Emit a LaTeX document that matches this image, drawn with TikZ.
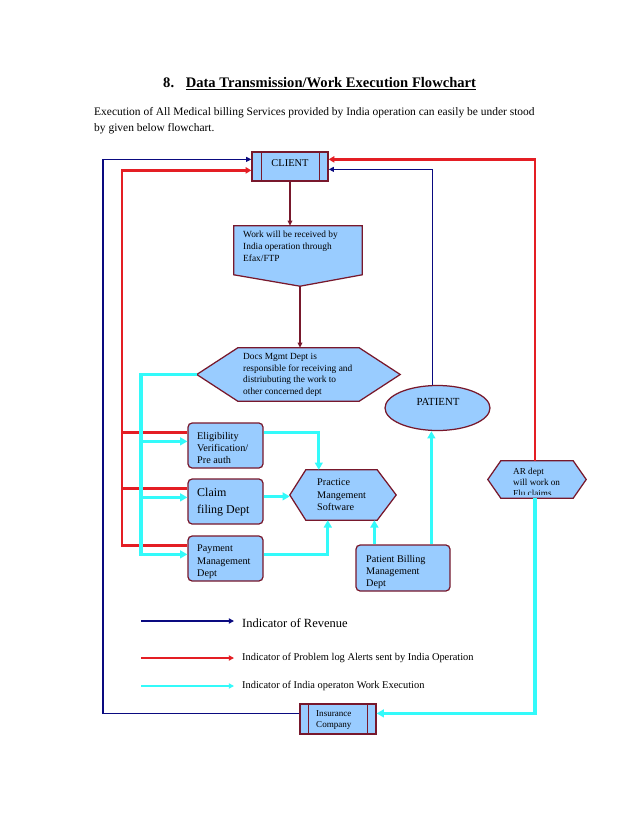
\documentclass[tikz,border=0pt]{standalone}
\usepackage{fontspec}
\setmainfont{Liberation Serif}
\usetikzlibrary{arrows.meta,calc,fit,shapes.geometric}
\definecolor{navyc}{RGB}{10,10,128}
\definecolor{redc}{RGB}{228,30,36}
\definecolor{cyanc}{RGB}{51,250,250}
\definecolor{boxfill}{RGB}{153,204,255}
\definecolor{boxline}{RGB}{120,24,44}
\tikzset{
  box/.style={draw=boxline, fill=boxfill, line width=1.2pt, rounded corners=4pt, inner sep=0pt},
  sqbox/.style={draw=boxline, fill=boxfill, line width=1.2pt, inner sep=0pt},
  ghost/.style={inner sep=0pt},
  shp/.style={draw=boxline, fill=boxfill, line width=1.2pt},
  txt/.style={anchor=north west, align=left, inner sep=0pt, font=\fontsize{9}{11.2}\selectfont},
  dtxt/.style={txt, font=\fontsize{9.8}{11.8}\selectfont},
  bluarr/.style={draw=navyc, line width=1.3pt, -{Triangle[length=5pt,width=4.5pt]}},
  blulin/.style={draw=navyc, line width=1.3pt},
  redarr/.style={draw=redc, line width=2.6pt, -{Triangle[length=5.5pt,width=6pt]}},
  redlin/.style={draw=redc, line width=2.6pt},
  cyaarr/.style={draw=cyanc, line width=3pt, -{Triangle[length=7pt,width=7.5pt]}},
  cyalin/.style={draw=cyanc, line width=3pt},
  marr/.style={draw=boxline, line width=1.3pt, -{Triangle[length=5pt,width=4.5pt]}},
}
\begin{document}
\begin{tikzpicture}[x=0.96pt,y=-0.96pt]
\useasboundingbox[fill=white] (0,0) rectangle (638,826);

% title and paragraph
\node[anchor=base west, inner sep=0pt, font=\fontsize{14}{16}\selectfont\bfseries] (title) at (163,88)
  {8.\hspace{0.8em}\underline{Data Transmission/Work Execution Flowchart}};
\node[anchor=north west, inner sep=0pt, align=left, font=\fontsize{11}{15.4}\selectfont] (para) at (94,107)
  {Execution of All Medical billing Services provided by India operation can easily be under stood\\by given below flowchart.};

% CLIENT
\node[sqbox, fit={(252,152)(328,181)}] (client) {};
\draw[boxline, line width=1.2pt] ($(client.north west)+(10,0)$) -- ($(client.south west)+(10,0)$);
\draw[boxline, line width=1.2pt] ($(client.north east)+(-9,0)$) -- ($(client.south east)+(-9,0)$);
\node[inner sep=0pt, font=\fontsize{10}{12}\selectfont] (clientT) at (290,163) {CLIENT};

% Work received (off-page shape)
\node[ghost, fit={(234,226)(362,286)}] (work) {};
\coordinate (workTip) at ($(work.south)+(2,0)$);
\draw[shp] (work.north west) -- (work.north east) -- ($(work.north east)+(0,49)$) -- (workTip) -- ($(work.north west)+(0,49)$) -- cycle;
\node[txt] (workT) at (243,231) {Work will be received by\\India operation through\\Efax/FTP};

% Docs hexagon
\node[ghost, fit={(197,348)(400,401)}] (docs) {};
\draw[shp] (docs.west) -- ($(docs.north west)+(41,0)$) -- ($(docs.north east)+(-41,0)$) -- (docs.east) -- ($(docs.south east)+(-41,0)$) -- ($(docs.south west)+(41,0)$) -- cycle;
\node[txt] (docsT) at (243,353) {Docs Mgmt Dept is\\responsible for receiving and\\distriubuting the work to\\other concerned dept};

% PATIENT
\node[ellipse, draw=boxline, fill=boxfill, line width=1.2pt, minimum width=105*0.96pt, minimum height=45*0.96pt, inner sep=0pt] (patient) at (437.5,408) {};
\node[inner sep=0pt, font=\fontsize{10.4}{12}\selectfont] (patientT) at (438,402) {PATIENT};

% departments
\node[box, fit={(188,423)(263,468)}] (elig) {};
\node[dtxt] (eligT) at (197,432) {Eligibility\\Verification/\\Pre auth};
\node[box, fit={(188,479)(263,524)}] (claim) {};
\node[txt, font=\fontsize{11.5}{16}\selectfont] (claimT) at (197,488) {Claim\\filing Dept};
\node[box, fit={(188,536)(263,581)}] (pay) {};
\node[dtxt] (payT) at (197,545) {Payment\\Management\\Dept};

% Practice hexagon
\node[ghost, fit={(290,470)(396,520)}] (prac) {};
\draw[shp] (prac.west) -- ($(prac.north west)+(16,0)$) -- ($(prac.north east)+(-19,0)$) -- (prac.east) -- ($(prac.south east)+(-19,0)$) -- ($(prac.south west)+(16,0)$) -- cycle;
\node[dtxt] (pracT) at (317,479) {Practice\\Mangement\\Software};

% Patient billing
\node[box, fit={(356,545)(450,591)}] (pb) {};
\node[dtxt] (pbT) at (366,555) {Patient Billing\\Management\\Dept};

% AR dept hexagon
\node[ghost, fit={(488,461)(586,498)}] (ar) {};
\draw[shp] (ar.west) -- ($(ar.north west)+(13,0)$) -- ($(ar.north east)+(-13,0)$) -- (ar.east) -- ($(ar.south east)+(-13,0)$) -- ($(ar.south west)+(13,0)$) -- cycle;
\begin{scope}
\clip (490,462) rectangle (584,494.5);
\node[txt, font=\fontsize{8.8}{11}\selectfont] (arT) at (513,467.5) {AR dept\\will work on\\Flu claims};
\end{scope}

% Insurance
\node[sqbox, fit={(300,704)(376,734)}] (ins) {};
\draw[boxline, line width=1.2pt] ($(ins.north west)+(9,0)$) -- ($(ins.south west)+(9,0)$);
\draw[boxline, line width=1.2pt] ($(ins.north east)+(-9,0)$) -- ($(ins.south east)+(-9,0)$);
\node[txt, font=\fontsize{8.7}{11}\selectfont] (insT) at (316,710) {Insurance\\Company};

% helper coordinates
\coordinate (cliL1) at ($(client.north west)+(0,8)$);
\coordinate (cliL2) at ($(client.north west)+(0,19)$);
\coordinate (cliR1) at ($(client.north east)+(0,8)$);
\coordinate (cliR2) at ($(client.north east)+(0,18)$);
\coordinate (blueX) at (103,0);
\coordinate (redX) at (122,0);
\coordinate (cyanX) at (141,0);
\coordinate (insIn) at ($(ins.north west)+(0,10)$);
\coordinate (insR) at ($(ins.north east)+(0,10)$);
\coordinate (eligR) at ($(elig.north west)+(0,10)$);
\coordinate (eligC) at ($(elig.north west)+(0,19)$);
\coordinate (claimR) at ($(claim.north west)+(0,10)$);
\coordinate (claimC) at ($(claim.north west)+(0,19)$);
\coordinate (payR) at ($(pay.north west)+(0,10)$);
\coordinate (payC) at ($(pay.north west)+(0,19)$);
\coordinate (eligE) at ($(elig.north east)+(0,10)$);
\coordinate (claimE) at ($(claim.north east)+(0,18)$);
\coordinate (payE) at ($(pay.north east)+(0,19)$);
\coordinate (pracT1) at ($(prac.north west)+(29,0)$);
\coordinate (pracB1) at ($(prac.south west)+(38,0)$);
\coordinate (pbT1) at ($(pb.north west)+(19,0)$);
\coordinate (pbT2) at ($(pb.north west)+(76,0)$);
\coordinate (arB) at ($(ar.south)+(-2,0)$);
\coordinate (arN) at ($(ar.north)+(-2,0)$);

% dark red flow
\draw[marr] (client.south) -- (client.south |- work.north);
\draw[marr] (workTip) -- (workTip |- docs.north);

% blue revenue lines
\draw[bluarr] (insIn) -- (insIn -| blueX) |- (cliL1);
\draw[bluarr] (patient.103) |- (cliR2);

% red alert lines
\draw[redarr] (payR) -- (payR -| redX) |- (cliL2);
\draw[redlin] (eligR) -- (eligR -| redX);
\draw[redlin] (claimR) -- (claimR -| redX);
\draw[redarr] (arN) |- (cliR1);

% cyan work lines
\draw[cyaarr] (docs.west) -- (docs.west -| cyanX) |- (payC);
\draw[cyaarr] (eligC -| cyanX) -- (eligC);
\draw[cyaarr] (claimC -| cyanX) -- (claimC);
\draw[cyaarr] (eligE) -| (pracT1);
\draw[cyaarr] (claimE) -- (claimE -| prac.west);
\draw[cyaarr] (payE) -| (pracB1);
\draw[cyaarr] (pbT1) -- (pbT1 |- prac.south);
\draw[cyaarr] (pbT2) -- (pbT2 |- patient.south);
\draw[cyaarr] (arB) |- (insR);

% legend
\coordinate (lg1s) at (141,621);
\coordinate (lg2s) at (141,658);
\coordinate (lg3s) at (141,686);
\node[anchor=west, inner sep=0pt, font=\fontsize{12}{14}\selectfont] (lg1t) at (242,623) {Indicator of Revenue};
\node[anchor=west, inner sep=0pt, font=\fontsize{10}{12}\selectfont] (lg2t) at (242,658) {Indicator of Problem log Alerts sent by India Operation};
\node[anchor=west, inner sep=0pt, font=\fontsize{10}{12}\selectfont] (lg3t) at (242,686) {Indicator of India operaton Work Execution};
\draw[draw=navyc, line width=2.2pt, -{Triangle[length=5pt,width=5pt]}] (lg1s) -- ($(lg1t.west |- lg1s)+(-8,0)$);
\draw[draw=redc, line width=2.4pt, -{Triangle[length=5pt,width=5pt]}] (lg2s) -- ($(lg2t.west |- lg2s)+(-8,0)$);
\draw[draw=cyanc, line width=2.2pt, -{Triangle[length=5pt,width=5pt]}] (lg3s) -- ($(lg3t.west |- lg3s)+(-8,0)$);
\end{tikzpicture}
\end{document}
